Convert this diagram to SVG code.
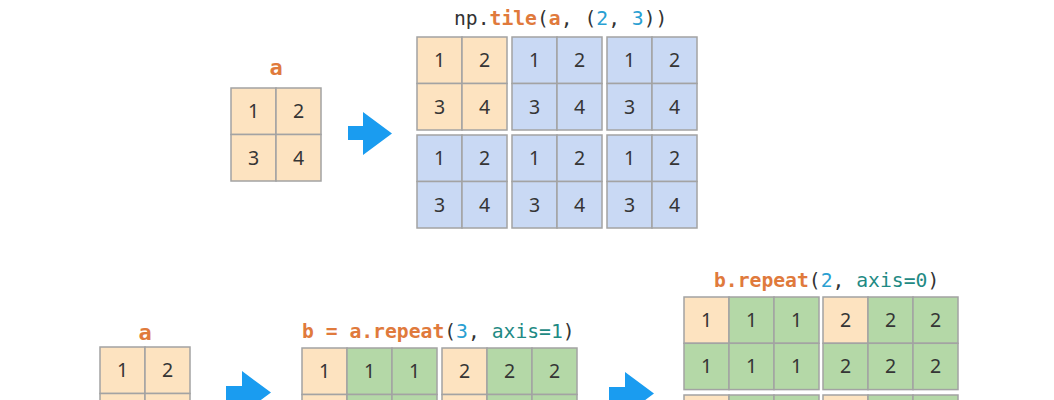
<svg xmlns="http://www.w3.org/2000/svg" width="1054" height="400" viewBox="0 0 1054 400">
<style>
.o{fill:#fde3c0;stroke:#a3a3a3;stroke-width:1.5}
.b{fill:#c9d9f4;stroke:#a3a3a3;stroke-width:1.5}
.g{fill:#b4d8a7;stroke:#a3a3a3;stroke-width:1.5}
.n{font-family:"Noto Sans","Open Sans",sans-serif;font-size:19.5px;fill:#353535;text-anchor:middle}
.code{font-family:"DejaVu Sans Mono","Liberation Mono",monospace;font-size:19.7px;fill:#333}
.lbl{font-family:"DejaVu Sans Mono","Liberation Mono",monospace;font-size:22px;font-weight:bold;fill:#e07a3c;text-anchor:middle}
.or{fill:#e07a3c;font-weight:bold}
.bl{fill:#2a9fd2}
.te{fill:#1f8a84}
.arrow{fill:#1a9cf0}
</style>
<rect width="1054" height="400" fill="#fff"/>

<g id="top-a">
<text class="lbl" x="276" y="75">a</text>
<rect class="o" x="231" y="88" width="45" height="46.5"/><rect class="o" x="276" y="88" width="45" height="46.5"/>
<rect class="o" x="231" y="134.5" width="45" height="46.5"/><rect class="o" x="276" y="134.5" width="45" height="46.5"/>
<text class="n" x="253.5" y="118">1</text><text class="n" x="298.5" y="118">2</text>
<text class="n" x="253.5" y="164.5">3</text><text class="n" x="298.5" y="164.5">4</text>
</g>

<g id="top-tile">
<text class="code" x="454" y="25">np.<tspan class="or">tile</tspan>(<tspan class="or">a</tspan>, (<tspan class="bl">2</tspan>, <tspan class="bl">3</tspan>))</text>
<g id="tile-0-0">
<rect class="o" x="417" y="37" width="45" height="46.5"/><rect class="o" x="462" y="37" width="45" height="46.5"/>
<rect class="o" x="417" y="83.5" width="45" height="46.5"/><rect class="o" x="462" y="83.5" width="45" height="46.5"/>
<text class="n" x="439.5" y="67">1</text><text class="n" x="484.5" y="67">2</text>
<text class="n" x="439.5" y="113.5">3</text><text class="n" x="484.5" y="113.5">4</text>
</g>
<g id="tile-0-1">
<rect class="b" x="512" y="37" width="45" height="46.5"/><rect class="b" x="557" y="37" width="45" height="46.5"/>
<rect class="b" x="512" y="83.5" width="45" height="46.5"/><rect class="b" x="557" y="83.5" width="45" height="46.5"/>
<text class="n" x="534.5" y="67">1</text><text class="n" x="579.5" y="67">2</text>
<text class="n" x="534.5" y="113.5">3</text><text class="n" x="579.5" y="113.5">4</text>
</g>
<g id="tile-0-2">
<rect class="b" x="607" y="37" width="45" height="46.5"/><rect class="b" x="652" y="37" width="45" height="46.5"/>
<rect class="b" x="607" y="83.5" width="45" height="46.5"/><rect class="b" x="652" y="83.5" width="45" height="46.5"/>
<text class="n" x="629.5" y="67">1</text><text class="n" x="674.5" y="67">2</text>
<text class="n" x="629.5" y="113.5">3</text><text class="n" x="674.5" y="113.5">4</text>
</g>
<g id="tile-1-0">
<rect class="b" x="417" y="135" width="45" height="46.5"/><rect class="b" x="462" y="135" width="45" height="46.5"/>
<rect class="b" x="417" y="181.5" width="45" height="46.5"/><rect class="b" x="462" y="181.5" width="45" height="46.5"/>
<text class="n" x="439.5" y="165">1</text><text class="n" x="484.5" y="165">2</text>
<text class="n" x="439.5" y="211.5">3</text><text class="n" x="484.5" y="211.5">4</text>
</g>
<g id="tile-1-1">
<rect class="b" x="512" y="135" width="45" height="46.5"/><rect class="b" x="557" y="135" width="45" height="46.5"/>
<rect class="b" x="512" y="181.5" width="45" height="46.5"/><rect class="b" x="557" y="181.5" width="45" height="46.5"/>
<text class="n" x="534.5" y="165">1</text><text class="n" x="579.5" y="165">2</text>
<text class="n" x="534.5" y="211.5">3</text><text class="n" x="579.5" y="211.5">4</text>
</g>
<g id="tile-1-2">
<rect class="b" x="607" y="135" width="45" height="46.5"/><rect class="b" x="652" y="135" width="45" height="46.5"/>
<rect class="b" x="607" y="181.5" width="45" height="46.5"/><rect class="b" x="652" y="181.5" width="45" height="46.5"/>
<text class="n" x="629.5" y="165">1</text><text class="n" x="674.5" y="165">2</text>
<text class="n" x="629.5" y="211.5">3</text><text class="n" x="674.5" y="211.5">4</text>
</g>
</g>

<g id="bottom-a">
<text class="lbl" x="145" y="340">a</text>
<rect class="o" x="100" y="347" width="45" height="46.5"/><rect class="o" x="145" y="347" width="45" height="46.5"/>
<rect class="o" x="100" y="393.5" width="45" height="46.5"/><rect class="o" x="145" y="393.5" width="45" height="46.5"/>
<text class="n" x="122.5" y="377">1</text><text class="n" x="167.5" y="377">2</text>
</g>

<g id="bottom-b">
<text class="code" x="302" y="338"><tspan class="or">b = a.repeat</tspan>(<tspan class="bl">3</tspan>, <tspan class="te">axis=1</tspan>)</text>
<g id="b-block-1">
<rect class="o" x="302" y="348" width="45" height="46.5"/><rect class="g" x="347" y="348" width="45" height="46.5"/><rect class="g" x="392" y="348" width="45" height="46.5"/>
<rect class="o" x="302" y="394.5" width="45" height="46.5"/><rect class="g" x="347" y="394.5" width="45" height="46.5"/><rect class="g" x="392" y="394.5" width="45" height="46.5"/>
<text class="n" x="324.5" y="378">1</text><text class="n" x="369.5" y="378">1</text><text class="n" x="414.5" y="378">1</text>
</g>
<g id="b-block-2">
<rect class="o" x="442" y="348" width="45" height="46.5"/><rect class="g" x="487" y="348" width="45" height="46.5"/><rect class="g" x="532" y="348" width="45" height="46.5"/>
<rect class="o" x="442" y="394.5" width="45" height="46.5"/><rect class="g" x="487" y="394.5" width="45" height="46.5"/><rect class="g" x="532" y="394.5" width="45" height="46.5"/>
<text class="n" x="464.5" y="378">2</text><text class="n" x="509.5" y="378">2</text><text class="n" x="554.5" y="378">2</text>
</g>
</g>

<g id="bottom-repeat">
<text class="code" x="714" y="287"><tspan class="or">b.repeat</tspan>(<tspan class="bl">2</tspan>, <tspan class="te">axis=0</tspan>)</text>
<g id="r-block-1">
<rect class="o" x="684" y="297" width="45" height="46.3"/><rect class="g" x="729" y="297" width="45" height="46.3"/><rect class="g" x="774" y="297" width="45" height="46.3"/>
<rect class="g" x="684" y="343.3" width="45" height="46.3"/><rect class="g" x="729" y="343.3" width="45" height="46.3"/><rect class="g" x="774" y="343.3" width="45" height="46.3"/>
<text class="n" x="706.5" y="326.8">1</text><text class="n" x="751.5" y="326.8">1</text><text class="n" x="796.5" y="326.8">1</text>
<text class="n" x="706.5" y="373">1</text><text class="n" x="751.5" y="373">1</text><text class="n" x="796.5" y="373">1</text>
</g>
<g id="r-block-2">
<rect class="o" x="823" y="297" width="45" height="46.3"/><rect class="g" x="868" y="297" width="45" height="46.3"/><rect class="g" x="913" y="297" width="45" height="46.3"/>
<rect class="g" x="823" y="343.3" width="45" height="46.3"/><rect class="g" x="868" y="343.3" width="45" height="46.3"/><rect class="g" x="913" y="343.3" width="45" height="46.3"/>
<text class="n" x="845.5" y="326.8">2</text><text class="n" x="890.5" y="326.8">2</text><text class="n" x="935.5" y="326.8">2</text>
<text class="n" x="845.5" y="373">2</text><text class="n" x="890.5" y="373">2</text><text class="n" x="935.5" y="373">2</text>
</g>
<g id="r-block-3">
<rect class="o" x="684" y="395" width="45" height="46.3"/><rect class="g" x="729" y="395" width="45" height="46.3"/><rect class="g" x="774" y="395" width="45" height="46.3"/>
</g>
<g id="r-block-4">
<rect class="o" x="823" y="395" width="45" height="46.3"/><rect class="g" x="868" y="395" width="45" height="46.3"/><rect class="g" x="913" y="395" width="45" height="46.3"/>
</g>
</g>

<g id="connectors">
<path class="arrow" d="M348,126 H363 V112 L392,133.5 L363,155 V140 H348 Z"/>
<path class="arrow" d="M226,386 H242 V371 L271,392.5 L242,414 V400 H226 Z"/>
<path class="arrow" d="M609,387 H625 V372 L654,393.5 L625,415 V401 H609 Z"/>
</g>
</svg>
